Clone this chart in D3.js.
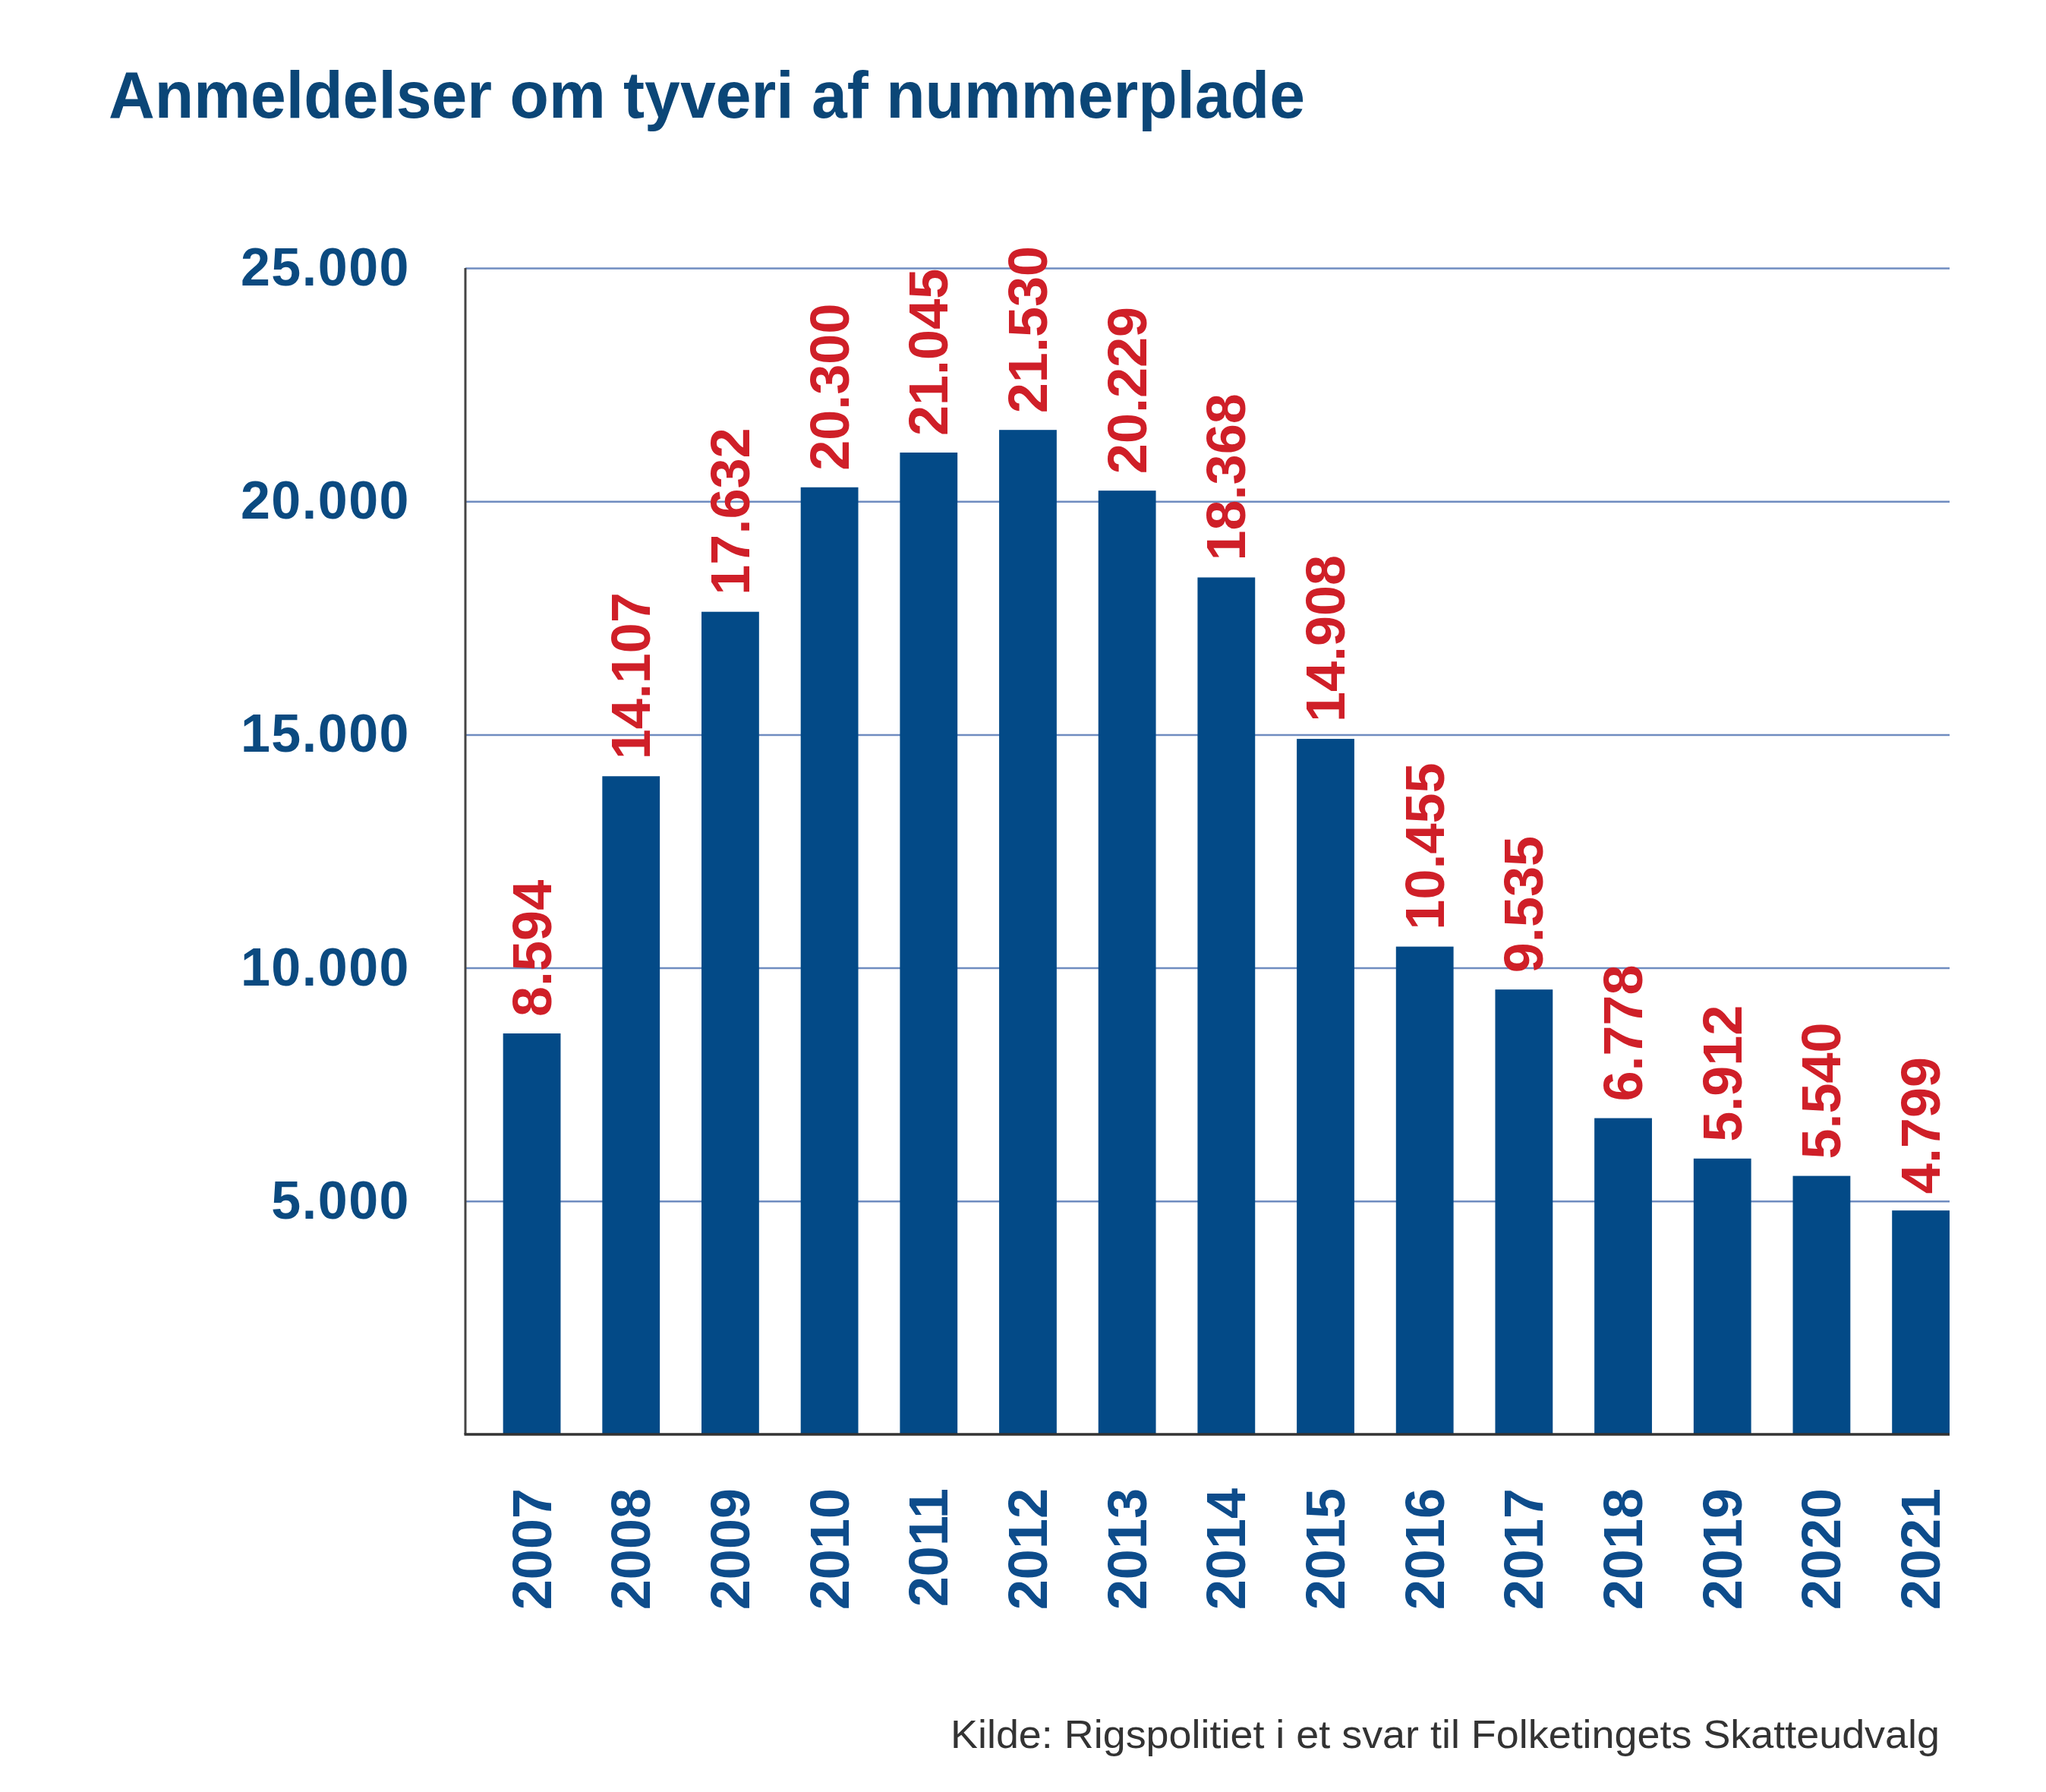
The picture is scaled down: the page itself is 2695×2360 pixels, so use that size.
<!DOCTYPE html>
<html>
<head>
<meta charset="utf-8">
<script src="https://cdn.jsdelivr.net/npm/d3@7"></script>
<style>
  html, body { margin: 0; padding: 0; background: #ffffff; }
  svg { display: block; }
</style>
</head>
<body>
<script>
const years = ["2007","2008","2009","2010","2011","2012","2013","2014","2015","2016","2017","2018","2019","2020","2021"];
const values = [8594, 14107, 17632, 20300, 21045, 21530, 20229, 18368, 14908, 10455, 9535, 6778, 5912, 5540, 4799];
const yTicks = [5000, 10000, 15000, 20000, 25000];
const titleText = "Anmeldelser om tyveri af nummerplade";
const sourceText = "Kilde: Rigspolitiet i et svar til Folketingets Skatteudvalg";

(function () {
const W = 2695, H = 2360;
const pLeft = 613, pRight = 2568, pTop = 353, pBottom = 1889;

const svg = d3.select("body").append("svg").attr("width", W).attr("height", H);

const locale = d3.formatLocale({decimal: ",", thousands: ".", grouping: [3], currency: ["", " kr."]});
const fmt = locale.format(",d");

const x = d3.scaleBand().domain(years).range([pLeft, pRight])
  .paddingInner(0.42).paddingOuter(0.19).align(1);
const y = d3.scaleLinear().domain([0, 25000]).range([pBottom, pTop]);

// title
svg.append("text")
  .attr("x", 143).attr("y", 155)
  .attr("font-family", "'Liberation Sans', Arial, sans-serif")
  .attr("font-weight", "bold")
  .attr("font-size", 88)
  .attr("fill", "#0b4677")
  .attr("textLength", 1576)
  .attr("lengthAdjust", "spacingAndGlyphs")
  .text(titleText);

// gridlines + y labels
const yAxis = d3.axisLeft(y).tickValues(yTicks).tickSize(-(pRight - pLeft)).tickFormat(fmt).tickPadding(73);
const gy = svg.append("g").attr("transform", `translate(${pLeft},0)`).call(yAxis);
gy.select(".domain").remove();
gy.selectAll(".tick line").attr("stroke", "#6f8cc0").attr("stroke-width", 2.5);
gy.selectAll(".tick text")
  .attr("font-family", "'Liberation Sans', Arial, sans-serif")
  .attr("font-weight", "bold")
  .attr("font-size", 70)
  .attr("letter-spacing", 1.5)
  .attr("fill", "#0b4a80");

// bars
svg.append("g").selectAll("rect").data(values).join("rect")
  .attr("x", (d, i) => x(years[i]))
  .attr("y", d => y(d))
  .attr("width", x.bandwidth())
  .attr("height", d => y(0) - y(d))
  .attr("fill", "#034a87");

// axis lines
svg.append("line").attr("x1", pLeft).attr("x2", pLeft).attr("y1", pTop).attr("y2", pBottom)
  .attr("stroke", "#444").attr("stroke-width", 3);
svg.append("line").attr("x1", pLeft - 1.5).attr("x2", pRight).attr("y1", pBottom).attr("y2", pBottom)
  .attr("stroke", "#333").attr("stroke-width", 3.5);

// value labels
svg.append("g").selectAll("text").data(values).join("text")
  .attr("transform", (d, i) => `translate(${x(years[i]) + x.bandwidth() / 2},${y(d) - 22}) rotate(-90)`)
  .attr("text-anchor", "start")
  .attr("dominant-baseline", "central")
  .attr("font-family", "'Liberation Sans', Arial, sans-serif")
  .attr("font-weight", "bold")
  .attr("font-size", 72)
  .attr("fill", "#cf1f28")
  .text(d => fmt(d));

// year labels
svg.append("g").selectAll("text").data(years).join("text")
  .attr("transform", d => `translate(${x(d) + x.bandwidth() / 2},1960) rotate(-90)`)
  .attr("text-anchor", "end")
  .attr("dominant-baseline", "central")
  .attr("font-family", "'Liberation Sans', Arial, sans-serif")
  .attr("font-weight", "bold")
  .attr("font-size", 72)
  .attr("fill", "#0d4c8b")
  .text(d => d);

// source
svg.append("text")
  .attr("x", 1252).attr("y", 2302)
  .attr("font-family", "'Liberation Sans', Arial, sans-serif")
  .attr("font-size", 52)
  .attr("fill", "#333333")
  .attr("textLength", 1303)
  .attr("lengthAdjust", "spacingAndGlyphs")
  .text(sourceText);
})();
</script>
</body>
</html>
